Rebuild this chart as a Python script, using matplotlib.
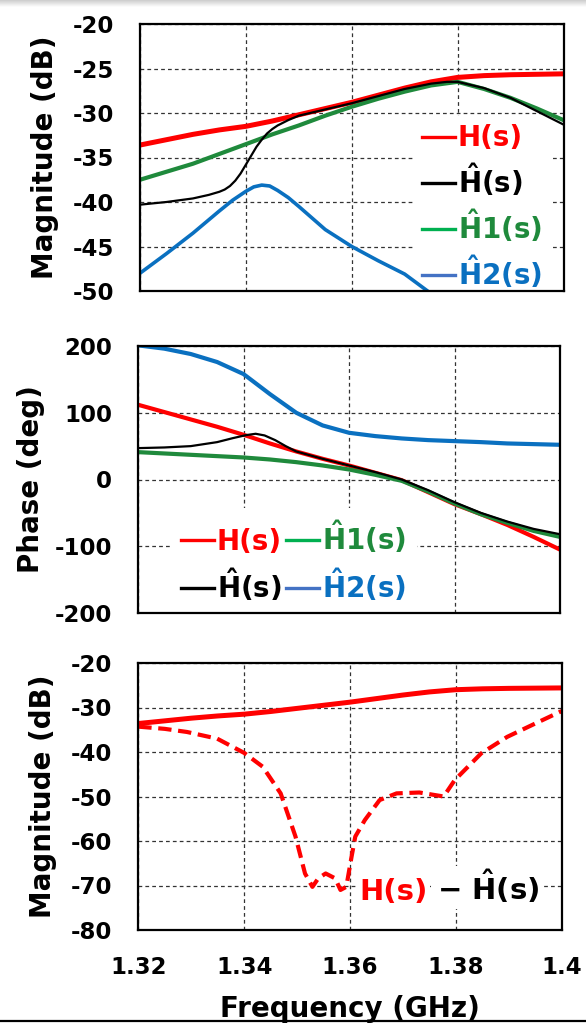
import numpy as np
import matplotlib
matplotlib.use("Agg")
import matplotlib.pyplot as plt
from matplotlib.lines import Line2D

# ---------------- data ----------------
freq = [1.32, 1.325, 1.33, 1.335, 1.34, 1.345, 1.35, 1.355, 1.36, 1.365,
        1.37, 1.375, 1.38, 1.385, 1.39, 1.395, 1.40]

# magnitude (dB)
H_mag = [-33.6, -33.0, -32.4, -31.9, -31.5, -30.9, -30.2, -29.5, -28.8, -28.0,
         -27.2, -26.5, -26.0, -25.8, -25.7, -25.65, -25.6]

Hhat_mag_f = [1.32, 1.325, 1.33, 1.333, 1.335, 1.336, 1.337, 1.338, 1.339, 1.34,
              1.341, 1.342, 1.343, 1.344, 1.345, 1.346, 1.348, 1.35, 1.355, 1.36,
              1.365, 1.37, 1.375, 1.378, 1.38, 1.385, 1.39, 1.395, 1.40]
Hhat_mag = [-40.3, -40.0, -39.6, -39.2, -38.85, -38.6, -38.2, -37.6, -36.8, -35.8,
            -34.8, -33.8, -33.0, -32.3, -31.8, -31.4, -30.8, -30.3, -29.6, -28.9,
            -28.1, -27.3, -26.7, -26.5, -26.5, -27.2, -28.3, -29.8, -31.3]

H1_mag = [-37.5, -36.6, -35.7, -34.6, -33.5, -32.4, -31.4, -30.3, -29.3, -28.4,
          -27.6, -26.9, -26.5, -27.3, -28.3, -29.5, -30.8]

H2_mag_f = [1.32, 1.325, 1.33, 1.335, 1.3375, 1.34, 1.3415, 1.343, 1.3445, 1.346,
            1.348, 1.35, 1.355, 1.36, 1.365, 1.37, 1.375, 1.38]
H2_mag = [-48.0, -45.8, -43.5, -41.0, -39.8, -38.8, -38.3, -38.1, -38.2, -38.7,
          -39.5, -40.5, -43.1, -45.0, -46.6, -48.1, -50.3, -52.3]

# phase (deg)
H_ph = [112, 101, 90, 79, 67, 54, 42, 31, 21, 10, -1, -19, -37, -52, -68, -86, -105]

Hhat_ph_f = [1.32, 1.325, 1.33, 1.335, 1.338, 1.3405, 1.3423, 1.344, 1.346, 1.348,
             1.35, 1.355, 1.36, 1.365, 1.37, 1.375, 1.38, 1.385, 1.39, 1.395, 1.40]
Hhat_ph = [47, 48, 50, 56, 62, 66.5, 68.5, 66, 59, 50,
           42, 31, 21, 11, 0, -16, -34, -50, -63, -74, -82]

H1_ph = [41, 39, 37, 35, 33, 30, 26, 21, 15, 7, -2, -18, -36, -52, -65, -77, -86]

H2_ph = [201, 196, 188, 176, 158, 128, 100, 81, 70, 65, 61.5, 59, 57.5, 56, 54, 53, 52]

# error |H - Hhat| (dB)
D_f = [1.32, 1.325, 1.3292, 1.3349, 1.34, 1.3435, 1.3469, 1.3497, 1.3515, 1.3529,
       1.354, 1.3554, 1.3572, 1.3582, 1.3593, 1.3603, 1.361, 1.3628, 1.3656, 1.3688,
       1.3731, 1.3777, 1.3798, 1.3848, 1.3897, 1.395, 1.40]
D_mag = [-34.3, -34.8, -35.5, -37.0, -40.2, -43.3, -49.3, -59.0, -67.3, -70.3,
         -68.4, -67.3, -68.4, -71.0, -70.3, -63.5, -59.0, -55.3, -50.8, -49.3,
         -49.1, -50.0, -46.3, -40.3, -36.6, -33.6, -30.8]

x_ticks = [1.32, 1.34, 1.36, 1.38, 1.40]
x_ticklabels = ["1.32", "1.34", "1.36", "1.38", "1.4"]
mag_ticks = [-50, -45, -40, -35, -30, -25, -20]
ph_ticks = [-200, -100, 0, 100, 200]
err_ticks = [-80, -70, -60, -50, -40, -30, -20]

# ---------------- style ----------------
plt.rcParams["font.family"] = ["DejaVu Sans"]
plt.rcParams["font.weight"] = "bold"
plt.rcParams["axes.labelweight"] = "bold"
plt.rcParams["mathtext.fontset"] = "dejavusans"
plt.rcParams["axes.unicode_minus"] = False

RED = "#ff0000"
BLACK = "#000000"
GREEN = "#1f8a3c"
BLUE = "#0a70c0"
LEG_GREEN = "#00b050"
LEG_BLUE = "#4472c4"

W, H = 586, 1023
fig = plt.figure(figsize=(W / 100, H / 100), dpi=100)

def px_axes(l, t, r, b):
    return [l / W, 1 - b / H, (r - l) / W, (b - t) / H]

ax1 = fig.add_axes(px_axes(140, 24, 563.5, 291))
ax2 = fig.add_axes(px_axes(138, 346, 560, 613))
ax3 = fig.add_axes(px_axes(138.3, 663, 561.7, 930))

for ax in (ax1, ax2, ax3):
    ax.set_xlim(1.32, 1.40)
    ax.set_xticks(x_ticks)
    ax.set_axisbelow(True)
    ax.grid(True, color="#333333", linestyle=(0, (3, 2.5)), linewidth=0.9)
    ax.tick_params(length=0, labelsize=16.5, pad=18.5)
    for s in ax.spines.values():
        s.set_linewidth(1.6)
        s.set_color("black")

ax1.set_xticklabels([])
ax2.set_xticklabels([])
ax3.set_xticklabels(x_ticklabels)
ax3.tick_params(axis="x", pad=19)

# ---- top: magnitude ----
ax1.plot(freq, H_mag, color=RED, lw=3.6, solid_capstyle="butt")
ax1.plot(freq, H1_mag, color=GREEN, lw=3.0)
ax1.plot(Hhat_mag_f, Hhat_mag, color=BLACK, lw=1.6)
ax1.plot(H2_mag_f, H2_mag, color=BLUE, lw=2.6)
ax1.set_ylim(-50, -20)
ax1.set_yticks(mag_ticks)
ax1.set_ylabel("Magnitude (dB)", fontsize=20)
ax1.yaxis.set_label_coords(-0.224, 0.5)
ax1.yaxis.label.set_va("center")

labels = ["H(s)", r"$\hat{\mathbf{H}}$(s)", r"$\hat{\mathbf{H}}$1(s)", r"$\hat{\mathbf{H}}$2(s)"]
text_colors = [RED, BLACK, GREEN, BLUE]
handle_colors = [RED, BLACK, LEG_GREEN, LEG_BLUE]

def make_handles():
    return [Line2D([], [], color=c, lw=2.4) for c in handle_colors]

leg1 = ax1.legend(make_handles(), labels, loc="upper left",
                  bbox_to_anchor=(0.6456, 0.655), borderaxespad=0,
                  prop=dict(size=20, weight="bold"), handlelength=1.2,
                  handletextpad=0.1, labelspacing=0.33, borderpad=0.3,
                  frameon=True, fancybox=False, edgecolor="none",
                  facecolor="white", framealpha=1)
leg1.set_zorder(1.5)
for t, c in zip(leg1.get_texts(), text_colors):
    t.set_color(c)

# ---- middle: phase ----
ax2.plot(freq, H_ph, color=RED, lw=3.0)
ax2.plot(freq, H1_ph, color=GREEN, lw=3.0)
ax2.plot(Hhat_ph_f, Hhat_ph, color=BLACK, lw=1.6)
ax2.plot(freq, H2_ph, color=BLUE, lw=3.0)
ax2.set_ylim(-200, 200)
ax2.set_yticks(ph_ticks)
ax2.set_ylabel("Phase (deg)", fontsize=20)
ax2.yaxis.set_label_coords(-0.254, 0.5)
ax2.yaxis.label.set_va("center")

leg2 = ax2.legend(make_handles(), labels, loc="upper left", ncol=2,
                  bbox_to_anchor=(0.075, 0.395), borderaxespad=0,
                  prop=dict(size=20, weight="bold"), handlelength=1.2,
                  handletextpad=0.1, labelspacing=0.4, borderpad=0.4,
                  columnspacing=0.15,
                  frameon=True, fancybox=False, edgecolor="none",
                  facecolor="white", framealpha=1)
leg2.set_zorder(1.5)
for t, c in zip(leg2.get_texts(), text_colors):
    t.set_color(c)

# ---- bottom: error ----
ax3.plot(freq, H_mag, color=RED, lw=3.6)
ax3.plot(D_f, D_mag, color=RED, lw=3.0, linestyle=(0, (3.2, 1.6)))
ax3.set_ylim(-80, -20)
ax3.set_yticks(err_ticks)
ax3.set_ylabel("Magnitude (dB)", fontsize=20)
ax3.yaxis.set_label_coords(-0.225, 0.5)
ax3.yaxis.label.set_va("center")
ax3.set_xlabel("Frequency (GHz)", fontsize=20, labelpad=11)

t1 = ax3.text(1.3617, -73.3, "H(s)", color=RED, fontsize=21, fontweight="bold",
              ha="left", va="baseline",
              bbox=dict(fc="white", ec="none", pad=2))
ax3.annotate(r"− $\hat{\mathbf{H}}$(s)", xy=(1, 0), xycoords=t1,
             xytext=(7, 0), textcoords="offset points", va="bottom", ha="left",
             color=BLACK, fontsize=21, fontweight="bold",
             bbox=dict(fc="white", ec="none", pad=2))

# ---- frame decorations ----
grad = np.linspace(0.80, 1.0, 50).reshape(-1, 1)
gax = fig.add_axes([0, 1 - 7 / H, 1, 7 / H])
gax.imshow(grad, cmap="gray", vmin=0, vmax=1, aspect="auto")
gax.axis("off")
fig.add_artist(Line2D([0, 1], [1 - 1021 / H, 1 - 1021 / H], transform=fig.transFigure,
                      color="black", lw=1.6, zorder=10))

fig.savefig("out.png", dpi=100)
